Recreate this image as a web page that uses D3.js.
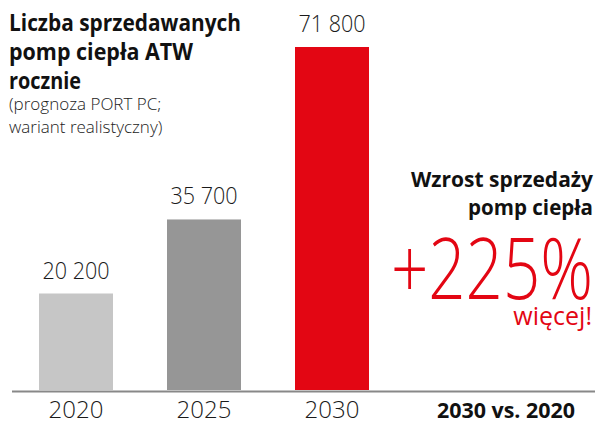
<!DOCTYPE html>
<html>
<head>
<meta charset="utf-8">
<script src="https://cdn.jsdelivr.net/npm/d3@7"></script>
<style>
  html, body { margin: 0; padding: 0; background: #fff; }
  svg text { font-family: "Open Sans", Roboto, sans-serif; }
</style>
</head>
<body>
<svg id="chart" width="598" height="422"></svg>
<script>
// Annual ATW heat pump sales (PORT PC forecast, realistic scenario)
const years = ["2020", "2025", "2030"];
const sales = [20200, 35700, 71800];
const valueLabels = ["20 200", "35 700", "71 800"];
const barColors = ["#c6c6c6", "#969696", "#e30613"];

const titleLines = ["Liczba sprzedawanych", "pomp ciepła ATW", "rocznie"];
const noteLines = ["(prognoza PORT PC;", "wariant realistyczny)"];
const growthLines = ["Wzrost sprzedaży", "pomp ciepła"];
const growthValue = "+225%";
const growthSuffix = "więcej!";
const compareLabel = "2030 vs. 2020";

const svg = d3.select("#chart");
const baseY = 390;

// squeeze a text element to a set width (the typeface here is a bit wider)
function fitWidth(sel, w) {
  sel.attr("textLength", w).attr("lengthAdjust", "spacingAndGlyphs");
}

const x = d3.scaleBand()
  .domain(years)
  .range([10, 398])
  .paddingInner(0.4219)
  .paddingOuter(0.2266);

const y = d3.scaleLinear()
  .domain([0, d3.max(sales)])
  .range([baseY, 47]);

// bars
svg.append("g").selectAll("rect")
  .data(years)
  .join("rect")
  .attr("x", d => x(d))
  .attr("y", (d, i) => y(sales[i]))
  .attr("width", x.bandwidth())
  .attr("height", (d, i) => baseY - y(sales[i]))
  .attr("fill", (d, i) => barColors[i]);

// value labels above bars
svg.append("g").selectAll("text")
  .data(years)
  .join("text")
  .attr("x", d => x(d) + x.bandwidth() / 2)
  .attr("y", (d, i) => y(sales[i]) - 15)
  .attr("text-anchor", "middle")
  .attr("font-size", 24)
  .attr("font-weight", 300)
  .attr("fill", "#1a1a1a")
  .text((d, i) => valueLabels[i])
  .call(fitWidth, 67);

// baseline axis with year labels
const axis = svg.append("g")
  .attr("transform", `translate(0,${baseY + 1.5})`)
  .call(d3.axisBottom(x).tickSize(0).tickPadding(10));
axis.select(".domain").remove();
axis.append("line")
  .attr("x1", 12).attr("x2", 595)
  .attr("stroke", "#888").attr("stroke-width", 2);
axis.selectAll(".tick text")
  .attr("font-size", 24)
  .attr("font-weight", 300)
  .attr("fill", "#1a1a1a")
  .attr("dy", null)
  .attr("y", 26.5);

svg.append("text")
  .attr("x", 575).attr("y", 418)
  .attr("text-anchor", "end")
  .attr("font-size", 22)
  .attr("font-weight", 700)
  .attr("fill", "#111")
  .text(compareLabel)
  .call(fitWidth, 138);

// title block
const titleWidths = [232, 184, 72];
svg.append("g").selectAll("text")
  .data(titleLines)
  .join("text")
  .attr("x", 9)
  .attr("y", (d, i) => 31 + i * 29)
  .attr("font-size", 23)
  .attr("font-weight", 700)
  .attr("fill", "#111")
  .attr("textLength", (d, i) => titleWidths[i])
  .attr("lengthAdjust", "spacingAndGlyphs")
  .text(d => d);

svg.append("g").selectAll("text")
  .data(noteLines)
  .join("text")
  .attr("x", 9)
  .attr("y", (d, i) => 110 + i * 23)
  .attr("font-size", 17)
  .attr("font-weight", 300)
  .attr("fill", "#222")
  .text(d => d);

// growth callout
const growthWidths = [182, 125];
svg.append("g").selectAll("text")
  .data(growthLines)
  .join("text")
  .attr("x", 593)
  .attr("y", (d, i) => 187 + i * 28)
  .attr("text-anchor", "end")
  .attr("font-size", 22)
  .attr("font-weight", 700)
  .attr("fill", "#111")
  .attr("textLength", (d, i) => growthWidths[i])
  .attr("lengthAdjust", "spacingAndGlyphs")
  .text(d => d);

svg.append("text")
  .attr("x", 593).attr("y", 299)
  .attr("text-anchor", "end")
  .attr("font-size", 84)
  .attr("font-weight", 300)
  .attr("fill", "#e30613")
  .text(growthValue)
  .call(fitWidth, 202);

svg.append("text")
  .attr("x", 592).attr("y", 325)
  .attr("text-anchor", "end")
  .attr("font-size", 25)
  .attr("font-weight", 400)
  .attr("fill", "#e30613")
  .text(growthSuffix);
</script>
</body>
</html>
